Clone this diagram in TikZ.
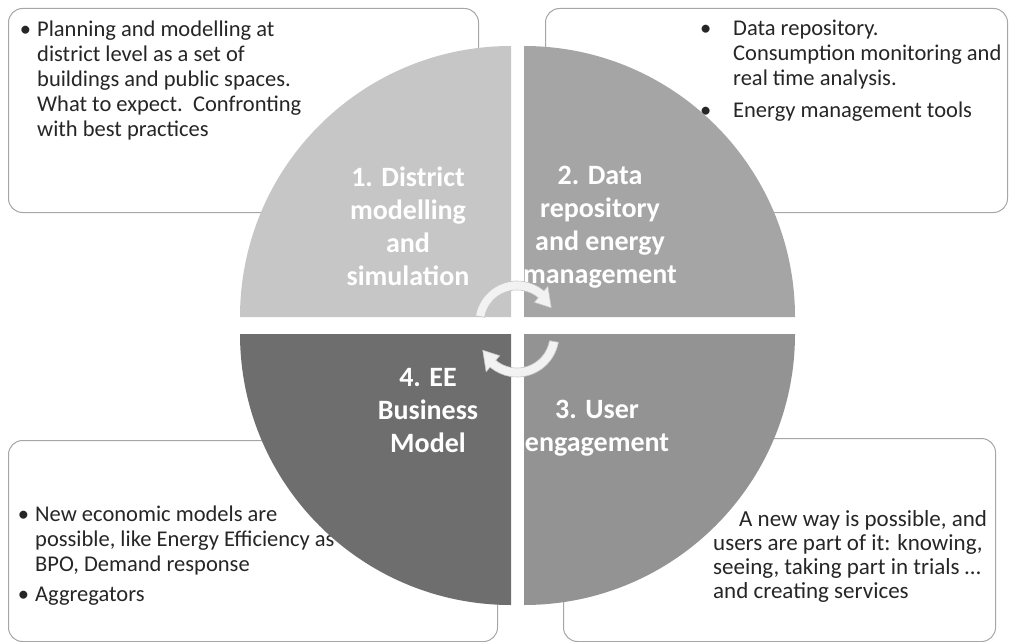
\documentclass[tikz,border=0pt]{standalone}
\usepackage{fontspec}
\setmainfont{Carlito}
\usetikzlibrary{calc}
\definecolor{qone}{HTML}{C6C6C6}
\definecolor{qtwo}{HTML}{A5A5A5}
\definecolor{qthree}{HTML}{939393}
\definecolor{qfour}{HTML}{6E6E6E}
\definecolor{boxline}{HTML}{A6A6A6}
\definecolor{txt}{HTML}{262626}
\definecolor{arrowfill}{HTML}{F2F2F2}
\begin{document}
\begin{tikzpicture}[x=1pt,y=-1pt,
  infobox/.style={draw=boxline, line width=1pt, rounded corners=14pt, fill=white, anchor=north west, inner sep=0pt},
  bodytext/.style={font=\fontsize{22.5}{25}\selectfont, text=txt, align=left, inner sep=0pt, anchor=north west},
  quadlabel/.style={font=\fontsize{28}{33}\selectfont\bfseries, text=white, align=center, inner sep=0pt},
  cyclearrow/.style={fill=arrowfill, draw=gray!45, line width=0.6pt}]
\useasboundingbox (0,0) rectangle (1009,642);
% info boxes
\node[infobox, minimum width=470pt, minimum height=204pt] (box1) at (8,8) {};
\node[infobox, minimum width=462pt, minimum height=204pt] (box2) at (545,8) {};
\node[infobox, minimum width=489pt, minimum height=201pt] (box4) at (8,440) {};
\node[infobox, minimum width=432pt, minimum height=203pt] (box3) at (563,438) {};
% box texts
\node[bodytext] (t1) at (37,21) {\llap{•\hspace{6pt}}Planning and modelling at\\district level as a set of\\buildings and public spaces.\\What to expect.\ \ Confronting\\with best practices};
\node[bodytext] (t2) at (733,20) {\llap{•\hspace{22pt}}Data repository.\\Consumption monitoring and\\real time analysis.\\[7pt]\llap{•\hspace{22pt}}Energy management tools};
\node[bodytext] (t4) at (35,506) {\llap{•\hspace{6pt}}New economic models are\\possible, like Energy Efficiency as\\BPO, Demand response\\[5pt]\llap{•\hspace{6pt}}Aggregators};
\node[bodytext, font=\fontsize{23}{24}\selectfont] (t3) at (713,510) {\hspace{26pt}A new way is possible, and\\users are part of it: knowing,\\seeing, taking part in trials …\\and creating services};
% quadrants
\fill[qone] (511,317) -- (240,317) arc[start angle=180, end angle=270, radius=271] -- cycle;
\fill[qtwo] (524,317) -- (524,46) arc[start angle=270, end angle=360, radius=271] -- cycle;
\fill[qthree] (524,334) -- (795,334) arc[start angle=0, end angle=90, radius=271] -- cycle;
\fill[qfour] (511,334) -- (511,605) arc[start angle=90, end angle=180, radius=271] -- cycle;
% quadrant labels
\node[quadlabel] (q1) at (408,226) {1. District\\modelling\\and\\simulation};
\node[quadlabel] (q2) at (600,227) {2. Data\\repository\\and energy\\management};
\node[quadlabel] (q4) at (428,411) {4. EE\\Business\\Model};
\node[quadlabel] (q3) at (597,428) {3. User\\engagement};
% cycle arrows
\coordinate (ct) at (517,323);
\coordinate (cb) at (517,335);
\draw[cyclearrow] ($(ct)+(190:42)$) arc[start angle=190, end angle=310, radius=42]
  -- ($(ct)+(310:48)$) -- ($(ct)+(336:37.5)$) -- ($(ct)+(310:27)$) -- ($(ct)+(310:33)$)
  arc[start angle=310, end angle=190, radius=33] -- cycle;
\draw[cyclearrow] ($(cb)+(10:42)$) arc[start angle=10, end angle=130, radius=42]
  -- ($(cb)+(130:48)$) -- ($(cb)+(156:37.5)$) -- ($(cb)+(130:27)$) -- ($(cb)+(130:33)$)
  arc[start angle=130, end angle=10, radius=33] -- cycle;
\end{tikzpicture}
\end{document}
